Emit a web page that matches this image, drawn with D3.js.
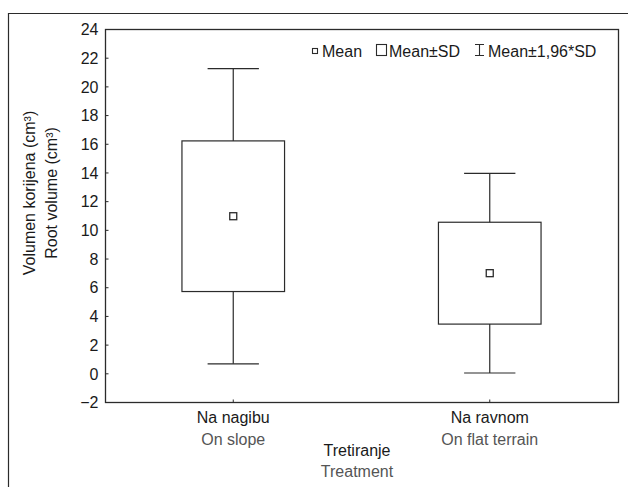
<!DOCTYPE html>
<html>
<head>
<meta charset="utf-8">
<script src="https://cdn.jsdelivr.net/npm/d3@7"></script>
<style>
  body { margin: 0; background: #fff; }
  svg text { font-family: "Liberation Sans", Arial, sans-serif; fill: #1a1a1a; }
</style>
</head>
<body>
<svg id="chart" width="628" height="487"></svg>
<script>
// categories (two languages) and stats
var catMain = ["Na nagibu", "Na ravnom"];
var catSub = ["On slope", "On flat terrain"];
var means = [10.95, 6.98];
var sds = [5.25, 3.55];
var yTicks = [-2, 0, 2, 4, 6, 8, 10, 12, 14, 16, 18, 20, 22, 24];

var svg = d3.select("#chart");
var pLeft = 105, pRight = 618, pTop = 29, pBottom = 402;
var ink = "#2b2b2b";
var fs = 16;

// outer frame (top + left only)
svg.append("path")
  .attr("d", "M8.5,487V13.5H628")
  .attr("fill", "none").attr("stroke", ink).attr("stroke-width", 1.2);

var x = d3.scaleBand().domain(catMain).range([pLeft, pRight]);
var y = d3.scaleLinear().domain([-2, 24]).range([pBottom, pTop]);

// plot box
svg.append("rect")
  .attr("x", pLeft + 0.5).attr("y", pTop + 0.5)
  .attr("width", pRight - pLeft).attr("height", pBottom - pTop)
  .attr("fill", "none").attr("stroke", ink).attr("stroke-width", 1.3);

// y axis
var yAxis = svg.append("g").attr("transform", "translate(" + (pLeft + 0.5) + ",0)")
  .call(d3.axisLeft(y).tickValues(yTicks).tickSize(-3).tickPadding(7));
yAxis.select(".domain").remove();
yAxis.selectAll("line").attr("stroke", ink);
yAxis.selectAll("text").attr("font-size", fs).attr("font-family", null).attr("fill", "#1a1a1a").attr("dy", "0.36em");

// x axis
var xAxis = svg.append("g").attr("transform", "translate(0," + (pBottom + 0.5) + ")")
  .call(d3.axisBottom(x).tickSize(-3).tickFormat(""));
xAxis.select(".domain").remove();
xAxis.selectAll("line").attr("stroke", ink);

var g = svg.append("g");
catMain.forEach(function(c, i) {
  var cx = x(c) + x.bandwidth() / 2;
  var bw = x.bandwidth() * 0.4, cw = bw / 2;
  var m = means[i], s = sds[i];
  // whiskers
  g.append("line").attr("x1", cx).attr("x2", cx)
    .attr("y1", y(m + 1.96 * s)).attr("y2", y(m + s))
    .attr("stroke", ink).attr("stroke-width", 1.2);
  g.append("line").attr("x1", cx).attr("x2", cx)
    .attr("y1", y(m - s)).attr("y2", y(m - 1.96 * s))
    .attr("stroke", ink).attr("stroke-width", 1.2);
  [m + 1.96 * s, m - 1.96 * s].forEach(function(v) {
    g.append("line").attr("x1", cx - cw / 2).attr("x2", cx + cw / 2)
      .attr("y1", y(v)).attr("y2", y(v))
      .attr("stroke", ink).attr("stroke-width", 1.2);
  });
  // box
  g.append("rect").attr("x", cx - bw / 2).attr("y", y(m + s))
    .attr("width", bw).attr("height", y(m - s) - y(m + s))
    .attr("fill", "none").attr("stroke", ink).attr("stroke-width", 1.2);
  // mean marker
  g.append("rect").attr("x", cx - 3.5).attr("y", y(m) - 3.5)
    .attr("width", 7).attr("height", 7)
    .attr("fill", "#fff").attr("stroke", ink).attr("stroke-width", 1.3);

  svg.append("text").attr("x", cx).attr("y", 423).attr("text-anchor", "middle")
    .attr("font-size", fs).text(c);
  svg.append("text").attr("x", cx).attr("y", 445).attr("text-anchor", "middle")
    .attr("font-size", fs).style("fill", "#555").text(catSub[i]);
});

// x title
svg.append("text").attr("x", 357).attr("y", 456).attr("text-anchor", "middle")
  .attr("font-size", fs).text("Tretiranje");
svg.append("text").attr("x", 357).attr("y", 477).attr("text-anchor", "middle")
  .attr("font-size", fs).style("fill", "#555").text("Treatment");

// y title
svg.append("text").attr("transform", "translate(35,193) rotate(-90)")
  .attr("text-anchor", "middle").attr("font-size", fs).text("Volumen korijena (cm³)");
svg.append("text").attr("transform", "translate(57,193) rotate(-90)")
  .attr("text-anchor", "middle").attr("font-size", fs).text("Root volume (cm³)");

// legend
var leg = svg.append("g");
leg.append("rect").attr("x", 312.5).attr("y", 48.5).attr("width", 5).attr("height", 5)
  .attr("fill", "#fff").attr("stroke", ink).attr("stroke-width", 1.1);
leg.append("text").attr("x", 322).attr("y", 56.5).attr("font-size", fs).text("Mean");
leg.append("rect").attr("x", 376.5).attr("y", 44.5).attr("width", 10).attr("height", 11)
  .attr("fill", "#fff").attr("stroke", ink).attr("stroke-width", 1.1);
leg.append("text").attr("x", 389).attr("y", 56.5).attr("font-size", fs).text("Mean±SD");
leg.append("path").attr("d", "M475,44.5H484M479.5,44.5V55.5M475,55.5H484")
  .attr("fill", "none").attr("stroke", ink).attr("stroke-width", 1.1);
leg.append("text").attr("x", 488).attr("y", 56.5).attr("font-size", fs).text("Mean±1,96*SD");
</script>
</body>
</html>
